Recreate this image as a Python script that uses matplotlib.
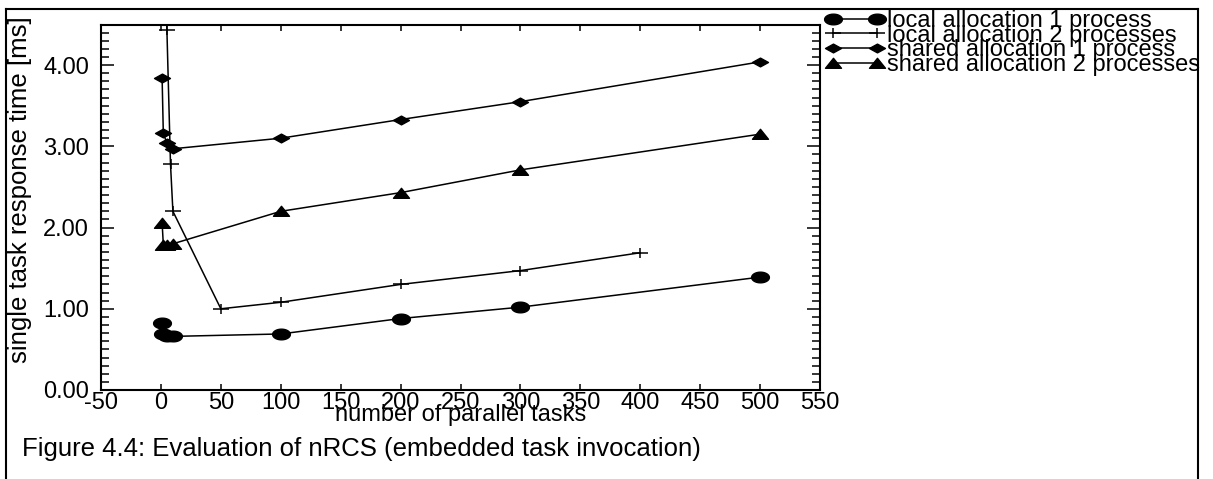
import matplotlib
matplotlib.use("Agg")
import matplotlib.pyplot as plt
import numpy as np
from matplotlib.path import Path
from matplotlib.lines import Line2D

plt.rcParams['font.family'] = ['Liberation Sans', 'DejaVu Sans']

# ---- data ----
x_local1 = [1, 2, 5, 10, 100, 200, 300, 500]
y_local1 = [0.82, 0.69, 0.67, 0.66, 0.69, 0.88, 1.02, 1.39]

x_local2 = [2, 5, 8, 10, 50, 100, 200, 300, 400]
y_local2 = [6.0, 4.43, 2.78, 2.20, 1.00, 1.08, 1.30, 1.47, 1.69]

x_shared1 = [1, 2, 5, 10, 100, 200, 300, 500]
y_shared1 = [3.84, 3.16, 3.04, 2.97, 3.10, 3.33, 3.55, 4.04]

x_shared2 = [1, 2, 5, 10, 100, 200, 300, 500]
y_shared2 = [2.06, 1.79, 1.79, 1.80, 2.20, 2.43, 2.71, 3.15]

labels = ["local allocation 1 process", "local allocation 2 processes",
          "shared allocation 1 process", "shared allocation 2 processes"]
xticks = [-50, 0, 50, 100, 150, 200, 250, 300, 350, 400, 450, 500, 550]
yticks = [0, 1, 2, 3, 4]

# ---- custom markers ----
t = np.linspace(0, 2*np.pi, 40)
ellipse = Path(np.column_stack([np.cos(t), 0.6*np.sin(t)]), closed=True)
diamond = Path([(-1, 0), (0, 0.55), (1, 0), (0, -0.55), (-1, 0)], closed=True)
triangle = Path([(-1, -0.6), (1, -0.6), (0, 0.65), (-1, -0.6)], closed=True)
plus = Path([(-1, 0), (1, 0), (0, -0.55), (0, 0.55)],
            [Path.MOVETO, Path.LINETO, Path.MOVETO, Path.LINETO])

W, H = 1213, 479
fig = plt.figure(figsize=(W/100, H/100), dpi=100)
ax = fig.add_axes([101/W, 1-390/H, (820-101)/W, (390-24.5)/H])

lw = 1.1
ax.plot(x_local1, y_local1, color='black', lw=lw, marker=ellipse, ms=12.8,
        mfc='black', mec='black', label=labels[0])
ax.plot(x_local2, y_local2, color='black', lw=lw, marker=plus, ms=12,
        mec='black', mew=1.1, label=labels[1])
ax.plot(x_shared1, y_shared1, color='black', lw=lw, marker=diamond, ms=11.5,
        mfc='black', mec='black', label=labels[2])
ax.plot(x_shared2, y_shared2, color='black', lw=lw, marker=triangle, ms=11.5,
        mfc='black', mec='black', label=labels[3])

ax.set_xlim(-50, 550)
ax.set_ylim(0, 4.5)
ax.set_xticks(xticks)
ax.set_xticklabels([str(v) for v in xticks])
ax.set_yticks(yticks)
ax.set_yticklabels([f"{v:.2f}" for v in yticks])
ax.set_yticks(np.arange(0, 4.51, 0.1), minor=True)

fs = 17
ax.tick_params(axis='both', which='both', direction='in', top=True, right=True,
               labelsize=fs, width=1.1, colors='black')
ax.tick_params(axis='x', which='major', length=4, pad=1.5)
ax.tick_params(axis='y', which='major', length=9.5, pad=8.5)
ax.tick_params(axis='y', which='minor', length=5.8)
for s in ax.spines.values():
    s.set_linewidth(1.5)

ax.set_xlabel("number of parallel tasks", fontsize=fs, labelpad=-7)
fig.text(20/W, 1-190/H, "single task response time [ms]", rotation=90,
         ha='center', va='center', fontsize=18.5)

leg = ax.legend(loc='upper left', bbox_to_anchor=(826/W, 1-10/H),
                bbox_transform=fig.transFigure, frameon=False, fontsize=fs,
                numpoints=2, handlelength=2.46, handletextpad=0.13,
                labelspacing=-0.31, borderpad=0, borderaxespad=0)

fig.text(22/W, 1-456/H, "Figure 4.4: Evaluation of nRCS (embedded task invocation)",
         ha='left', va='baseline', fontsize=18.5)

# outer frame
frame_kw = dict(color='black', lw=1.5, transform=fig.transFigure)
fig.add_artist(Line2D([6/W, 6/W], [0, 1-9/H], **frame_kw))
fig.add_artist(Line2D([6/W, 1198/W], [1-9/H, 1-9/H], **frame_kw))
fig.add_artist(Line2D([1198/W, 1198/W], [0, 1-9/H], **frame_kw))

fig.savefig("out.png", dpi=100)
